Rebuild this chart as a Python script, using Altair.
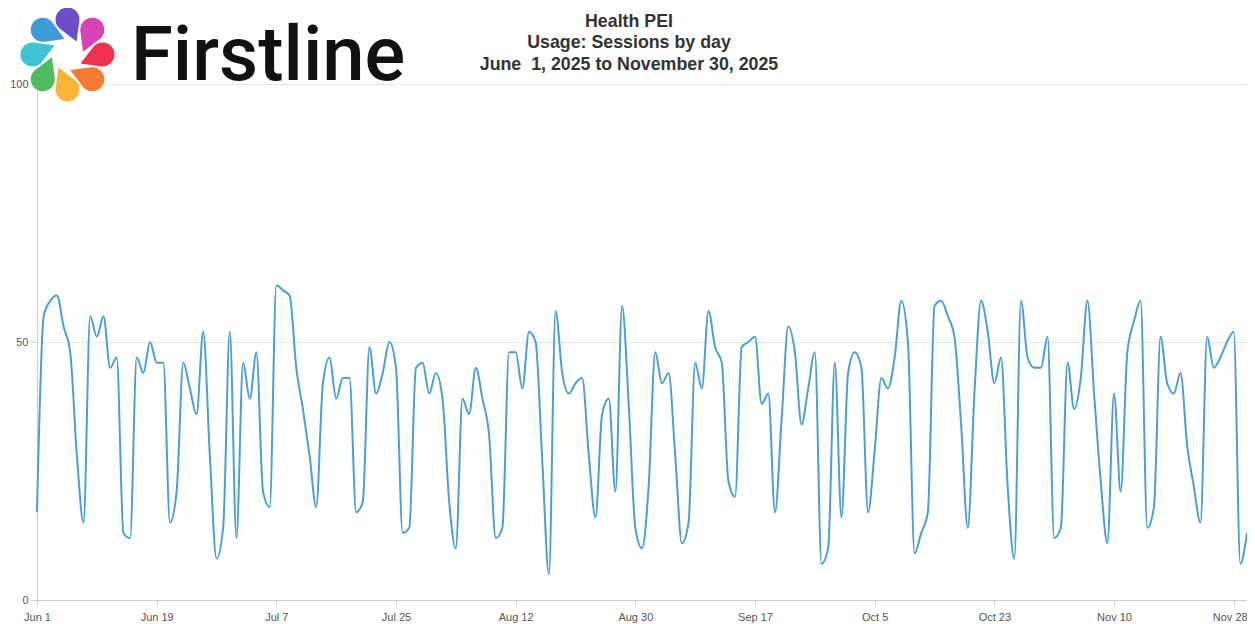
import json
import math
import altair as alt
import pandas as pd

# ---------------- data ----------------
start_date = "2025-06-01"
sessions = [
    17, 55, 58, 59, 53, 48, 28, 15, 55, 51, 55, 45, 47, 13, 12, 47, 44, 50, 46, 46,
    15, 21, 46, 41, 36, 52, 28, 8, 14, 52, 12, 46, 39, 48, 21, 18, 61, 60, 59, 45,
    37, 28, 18, 42, 47, 39, 43, 43, 17, 19, 49, 40, 44, 50, 45, 13, 14, 45, 46, 40,
    44, 39, 19, 10, 39, 36, 45, 39, 32, 12, 14, 48, 48, 41, 52, 50, 27, 5, 56, 44,
    40, 42, 43, 28, 16, 36, 39, 21, 57, 38, 14, 10, 22, 48, 42, 44, 28, 11, 15, 46,
    41, 56, 49, 46, 23, 20, 49, 50, 51, 38, 40, 17, 35, 53, 48, 34, 41, 48, 7, 10,
    46, 16, 44, 48, 45, 17, 29, 43, 41, 47, 58, 50, 9, 13, 17, 57, 58, 55, 51, 34,
    14, 40, 58, 52, 42, 47, 22, 8, 58, 47, 45, 45, 51, 12, 14, 46, 37, 43, 58, 40,
    23, 11, 40, 21, 48, 54, 58, 14, 18, 51, 42, 40, 44, 30, 22, 15, 51, 45, 47, 50,
    52, 7, 13,
]
tick_days = [0, 18, 36, 54, 72, 90, 108, 126, 144, 162, 180]
tick_labels = ["Jun 1", "Jun 19", "Jul 7", "Jul 25", "Aug 12", "Aug 30",
               "Sep 17", "Oct 5", "Oct 23", "Nov 10", "Nov 28"]
y_ticks = [0, 50, 100]
title_lines = ["Health PEI", "Usage: Sessions by day",
               "June \u00a01, 2025 to November 30, 2025"]
brand_name = "Firstline"
petal_colors = ["#6a4fc8", "#d742b4", "#f0344f", "#f47b2f",
                "#f8b53a", "#4dbb5e", "#3ec4d2", "#3e9bd8"]
petal_angles = [0, 45, 90, 135, 180, 225, 270, 315]

dates = pd.date_range(start_date, periods=len(sessions), freq="D")
df = pd.DataFrame({"day": range(len(sessions)),
                   "date": dates.strftime("%Y-%m-%d"),
                   "sessions": sessions})

# ---------------- main line ----------------
label_expr = f"{json.dumps(tick_labels)}[indexof({json.dumps(tick_days)}, datum.value)]"
last_tick = tick_days[-1]

line = alt.Chart(df).mark_line(
    interpolate="monotone", color="#4a9fd6", strokeWidth=2
).encode(
    x=alt.X("day:Q",
            scale=alt.Scale(domain=[0, len(sessions) - 1], nice=False, zero=False),
            axis=alt.Axis(values=tick_days, labelExpr=label_expr, title=None,
                          grid=False, tickSize=5, labelPadding=6,
                          labelFlush=False,
                          labelOffset={"condition": {"test": f"datum.value == {last_tick}",
                                                     "value": -4},
                                       "value": 0})),
    y=alt.Y("sessions:Q",
            scale=alt.Scale(domain=[0, 100], nice=False),
            axis=alt.Axis(values=y_ticks, title=None, grid=True,
                          tickSize=6, labelPadding=3)),
)

# ---------------- header texts ----------------
one_row = alt.Data(values=[{}])

title = alt.Chart(one_row).mark_text(
    text=title_lines, font="Liberation Sans", fontSize=17.8, fontWeight="bold",
    color="#333333", align="center", baseline="alphabetic", lineHeight=21.3,
).encode(x=alt.value(592), y=alt.value(-57))

brand = alt.Chart(one_row).mark_text(
    text=brand_name, font="Roboto", fontSize=76, fontWeight=500,
    color="#111111", align="left", baseline="alphabetic",
).encode(x=alt.value(94), y=alt.value(-4))

# ---------------- logo petals ----------------
R = 46.0
cx, cy, rr = 0.0, -35.0 / R, 12.0 / R
tx, ty = 9.0 / R, -13.0 / R
dist = math.hypot(tx - cx, ty - cy)
u = math.atan2(ty - cy, tx - cx)
g = math.acos(rr / dist)
pts = [(tx, ty)]
n = 28
for i in range(n + 1):
    a = u + g + (2 * math.pi - 2 * g) * i / n
    pts.append((cx + rr * math.cos(a), cy + rr * math.sin(a)))
petal_path = "M" + " L".join(f"{x:.4f},{y:.4f}" for x, y in pts) + " Z"

petal_df = pd.DataFrame({"angle": petal_angles, "color": petal_colors})
petals = alt.Chart(petal_df).mark_point(
    shape=petal_path, filled=True, size=(2 * R) ** 2, opacity=1, strokeWidth=0
).encode(
    x=alt.value(30.5), y=alt.value(-29.5),
    angle=alt.Angle("angle:Q", scale=None),
    color=alt.Color("color:N", scale=None),
)

chart = alt.layer(line, title, brand, petals).properties(
    width=1210, height=516,
    autosize=alt.AutoSizeParams(type="none"),
    padding={"left": 29, "top": 76, "right": 0, "bottom": 26},
).configure_view(strokeWidth=0).configure_axis(
    domainColor="#cccccc", tickColor="#cccccc", gridColor="#e6e6e6",
    labelColor="#555555", labelFont="Liberation Sans", labelFontSize=11,
)

chart.save("out.html", embed_options={"renderer": "svg", "actions": False})
